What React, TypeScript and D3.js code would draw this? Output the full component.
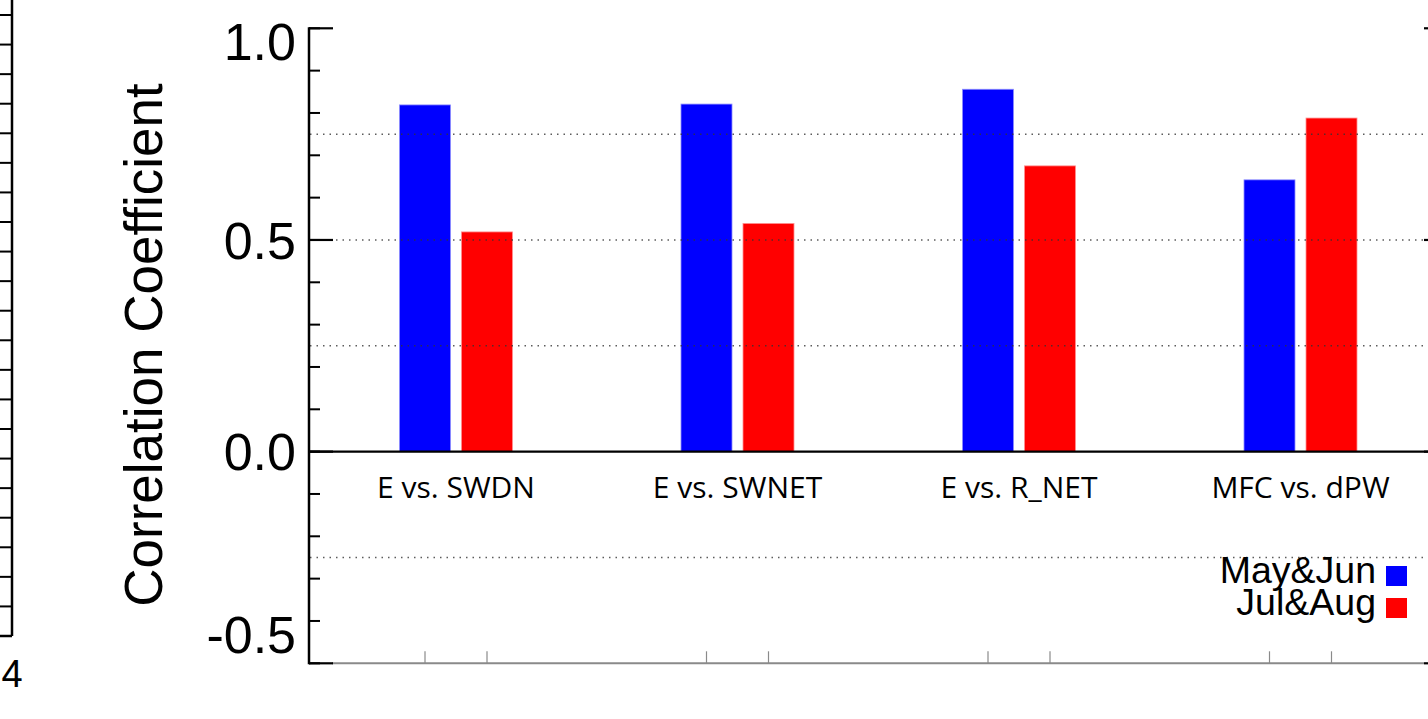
import React from "react";
import * as d3 from "d3";

// Correlation coefficients for each variable pair, per two-month season
const categories = ["E vs. SWDN", "E vs. SWNET", "E vs. R_NET", "MFC vs. dPW"];
const mayJun = [0.819, 0.821, 0.856, 0.642];
const julAug = [0.519, 0.539, 0.675, 0.788];
const seriesNames = ["May&Jun", "Jul&Aug"];
const seriesColors = ["#0000ff", "#ff0000"];

const yMajorTicks = [-0.5, 0.0, 0.5, 1.0];
const yMajorLabels = ["-0.5", "0.0", "0.5", "1.0"];
const yMinorTicks = d3.range(-5, 11).map((d) => d / 10);
const gridLevels = [-0.25, 0.25, 0.5, 0.75];

// neighbouring panel's right-hand axis (only its edge is in view)
const neighbourTicks = d3.range(0, 21);
const neighbourLabel = "4";

const W = 1428;
const H = 719;
const helv = "'Liberation Sans', Arial, Helvetica, sans-serif";
const humanist = "'Open Sans', 'Noto Sans', sans-serif";

export default function App() {
  const y = d3.scaleLinear().domain([-0.5, 1.0]).range([663.3, 28.3]);
  const gx = d3.scaleLinear().domain([0, categories.length - 1]).range([456, 1300.5]);
  const barW = 51;
  const barOffset = 31;
  const axisX = 309;
  const rightAxisX = 1448;
  const yTop = y(1.0);
  const yBot = y(-0.5);
  const nb = d3.scaleLinear().domain([0, 21]).range([15, 636]);

  const series = [mayJun, julAug];

  const labelCenter = (v: number) => Math.max(yTop + 13, Math.min(yBot - 28.7, y(v)));

  return (
    <div style={{ position: "absolute", left: 0, top: 0 }}>
      <svg width={W} height={H} style={{ display: "block", background: "#fff" }}>
        {/* edge of neighbouring panel */}
        <g stroke="#000" strokeWidth={2.5}>
          <line x1={12} x2={12} y1={0} y2={nb(21)} />
          <line x1={0} x2={12} y1={nb(21)} y2={nb(21)} />
          {neighbourTicks.map((k) => (
            <line key={k} x1={0} x2={12} y1={nb(k)} y2={nb(k)} strokeWidth={2} />
          ))}
        </g>
        <text x={12} y={687} fontFamily={helv} fontSize={38} textAnchor="middle" fill="#000">
          {neighbourLabel}
        </text>

        {/* bars */}
        {series.map((vals, si) =>
          vals.map((v, i) => {
            const cx = gx(i) + (si === 0 ? -barOffset : barOffset);
            return (
              <rect
                key={`${si}-${i}`}
                x={cx - barW / 2}
                y={y(Math.max(v, 0))}
                width={barW}
                height={Math.abs(y(v) - y(0))}
                fill={seriesColors[si]}
                stroke={si === 0 ? "#8c8cff" : "#ff9090"}
                strokeWidth={0.8}
              />
            );
          })
        )}

        {/* dotted reference lines */}
        {gridLevels.map((g) => (
          <line
            key={g}
            x1={axisX + 1}
            x2={W}
            y1={y(g)}
            y2={y(g)}
            stroke="#333"
            strokeOpacity={0.8}
            strokeWidth={1.5}
            strokeDasharray="1.5,5"
          />
        ))}

        {/* zero line */}
        <line x1={axisX} x2={W} y1={y(0)} y2={y(0)} stroke="#000" strokeWidth={2.2} />

        {/* bottom axis */}
        <line x1={axisX + 23} x2={rightAxisX - 24} y1={yBot} y2={yBot} stroke="#8a8a8a" strokeWidth={2} />
        {categories.map((c, i) =>
          [-barOffset, barOffset].map((o) => (
            <line
              key={`${c}${o}`}
              x1={gx(i) + o}
              x2={gx(i) + o}
              y1={yBot}
              y2={yBot - 12}
              stroke="#8a8a8a"
              strokeWidth={1.2}
            />
          ))
        )}

        {/* left axis */}
        <g stroke="#000">
          <line x1={axisX} x2={axisX} y1={yTop - 1} y2={yBot + 1} strokeWidth={2.5} />
          {yMinorTicks.map((t) => (
            <line key={`mi${t}`} x1={axisX} x2={axisX + 11} y1={y(t)} y2={y(t)} strokeWidth={2} />
          ))}
          {yMajorTicks.map((t) => (
            <line key={`ma${t}`} x1={axisX} x2={axisX + 24} y1={y(t)} y2={y(t)} strokeWidth={2.2} />
          ))}
          {/* right axis ticks (axis line itself lies past the edge) */}
          {yMajorTicks.map((t) => (
            <line key={`r${t}`} x1={rightAxisX - 24} x2={rightAxisX} y1={y(t)} y2={y(t)} strokeWidth={2.2} />
          ))}
        </g>
        {yMajorTicks.map((t, i) => (
          <text
            key={`l${t}`}
            x={296}
            y={labelCenter(t) + 18.6}
            fontFamily={helv}
            fontSize={52}
            textAnchor="end"
            fill="#000"
          >
            {yMajorLabels[i]}
          </text>
        ))}

        {/* axis title */}
        <text
          transform={`translate(162,345) rotate(-90)`}
          fontFamily={helv}
          fontSize={53}
          textAnchor="middle"
          fill="#000"
        >
          Correlation Coefficient
        </text>

        {/* category labels */}
        {categories.map((c, i) => (
          <text
            key={c}
            x={gx(i)}
            y={y(0) + 46.5}
            fontFamily={humanist}
            fontSize={30}
            textAnchor="middle"
            fill="#000"
          >
            {c}
          </text>
        ))}

        {/* legend */}
        {seriesNames.map((s, i) => (
          <g key={s}>
            <text
              x={1376}
              y={583 + i * 32}
              fontFamily={helv}
              fontSize={37.5}
              textAnchor="end"
              fill="#000"
            >
              {s}
            </text>
            <rect x={1386} y={566 + i * 32} width={21} height={20} fill={seriesColors[i]} />
          </g>
        ))}
      </svg>
    </div>
  );
}
